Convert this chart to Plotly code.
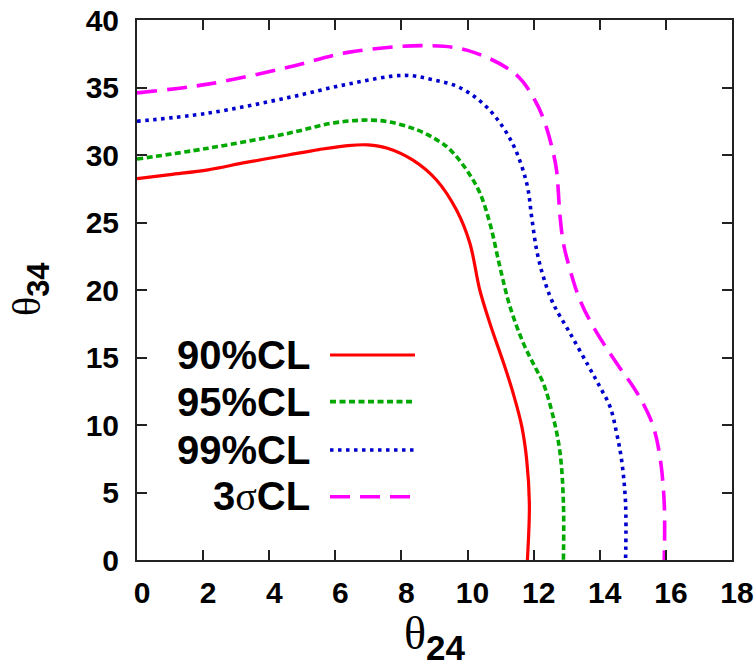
import plotly.graph_objects as go

# ---- data ----
x90 = [0, 1.0, 2.15, 3.3, 4.57, 5.5, 6.38, 6.98, 7.58, 8.36, 9.06, 9.67, 10.07, 10.37, 10.68, 11.13, 11.38, 11.64, 11.79, 11.87, 11.81]
y90 = [28.25, 28.55, 28.9, 29.45, 30.0, 30.4, 30.7, 30.75, 30.5, 29.6, 28.15, 25.9, 23.46, 20.0, 17.5, 14.3, 12.35, 9.9, 7.4, 4.2, 0]

x95 = [0, 2.15, 4.57, 6.01, 7.34, 8.43, 9.15, 9.47, 9.97, 10.37, 10.68, 10.98, 11.28, 11.69, 12.04, 12.29, 12.59, 12.8, 12.9, 12.9]
y95 = [29.7, 30.5, 31.6, 32.4, 32.55, 31.9, 31.0, 30.4, 28.9, 27.2, 24.9, 21.7, 18.8, 16.05, 14.3, 13.1, 10.6, 7.9, 4.2, 0]

x99 = [0, 2.15, 4.57, 6.38, 8.07, 8.91, 9.76, 10.6, 11.33, 11.79, 11.94, 12.09, 12.29, 12.59, 13.1, 13.65, 14.0, 14.31, 14.51, 14.66, 14.78, 14.78]
y99 = [32.5, 33.1, 34.25, 35.25, 35.9, 35.6, 35.0, 33.5, 31.0, 27.9, 25.4, 22.96, 21.0, 19.0, 16.8, 14.4, 12.84, 11.36, 9.4, 7.4, 4.2, 0]

x3s = [0, 2.15, 4.57, 6.38, 8.67, 10.0, 11.45, 12.05, 12.35, 12.57, 12.69, 12.8, 12.9, 13.1, 13.4, 13.8, 14.51, 15.01, 15.31, 15.62, 15.82, 15.95, 15.95]
y3s = [34.6, 35.25, 36.5, 37.6, 38.1, 37.75, 36.0, 34.0, 32.3, 30.4, 28.9, 25.4, 23.46, 21.5, 19.26, 17.3, 14.57, 12.84, 11.6, 9.88, 7.65, 4.2, 0]

labels = ["90%CL", "95%CL", "99%CL", "3<span style=\"font-family:'Liberation Serif';font-weight:normal\">σ</span>CL"]
colors = ["#ff0000", "#00a800", "#0000cc", "#ff00ff"]
dashes = ["solid", "6px,3.5px", "3.5px,4.5px", "20px,10px"]
widths = [3.2, 3.6, 3.6, 3.6]

xticks = list(range(0, 19, 2))
yticks = list(range(0, 41, 5))

x_title = "<span style=\"font-family:'Liberation Serif';font-weight:normal;font-size:46px\">θ</span><sub><b>24</b></sub>"
y_title = "<span style=\"font-family:'Liberation Serif';font-weight:normal;font-size:40px\">θ</span><sub><b>34</b></sub>"

series = [(x90, y90), (x95, y95), (x99, y99), (x3s, y3s)]

fig = go.Figure()
for (xs, ys), c, d, w in zip(series, colors, dashes, widths):
    fig.add_trace(go.Scatter(x=xs, y=ys, mode="lines",
                             line=dict(color=c, dash=d, width=w, shape="spline", smoothing=1.0),
                             showlegend=False, hoverinfo="skip"))

# legend drawn manually (text to the left of the line sample)
row_y = [0.3796, 0.2932, 0.2037, 0.1172]
for lab, c, d, w, ry in zip(labels, colors, dashes, widths, row_y):
    fig.add_annotation(x=0.2935, y=ry, xref="paper", yref="paper", text="<b>%s</b>" % lab,
                       showarrow=False, xanchor="right", yanchor="middle",
                       font=dict(family="Liberation Sans", size=40, color="black"))
    fig.add_shape(type="line", xref="paper", yref="paper", x0=0.3244, x1=0.4672, y0=ry, y1=ry,
                  line=dict(color=c, dash=d, width=w))

# axis titles as annotations for exact placement
fig.add_annotation(x=0.5, y=0, xref="paper", yref="paper", text=x_title, showarrow=False,
                   xanchor="center", yanchor="middle", yshift=-77,
                   font=dict(family="Liberation Sans", size=50, color="black"))
fig.add_annotation(x=0, y=0.5, xref="paper", yref="paper", text=y_title, showarrow=False,
                   xanchor="center", yanchor="middle", xshift=-107, textangle=-90,
                   font=dict(family="Liberation Sans", size=44, color="black"))

axis_common = dict(showgrid=False, zeroline=False, showline=True, linecolor="#222", linewidth=2,
                   mirror="ticks", ticks="inside", ticklen=10, tickwidth=2, tickcolor="#222",
                   automargin=False,
                   tickfont=dict(family="Liberation Sans", size=30, color="black", weight="bold"))

fig.update_xaxes(range=[0, 18], tickvals=xticks, ticktext=[str(v) for v in xticks],
                 ticklabelshift=5, ticklabelstandoff=5, **axis_common)
fig.update_yaxes(range=[0, 40], tickvals=yticks, ticktext=[str(v) for v in yticks],
                 ticklabelstandoff=10, **axis_common)

fig.update_layout(width=755, height=662, margin=dict(l=137, r=23, t=20, b=102),
                  paper_bgcolor="white", plot_bgcolor="white")

fig.write_html("out.html")
